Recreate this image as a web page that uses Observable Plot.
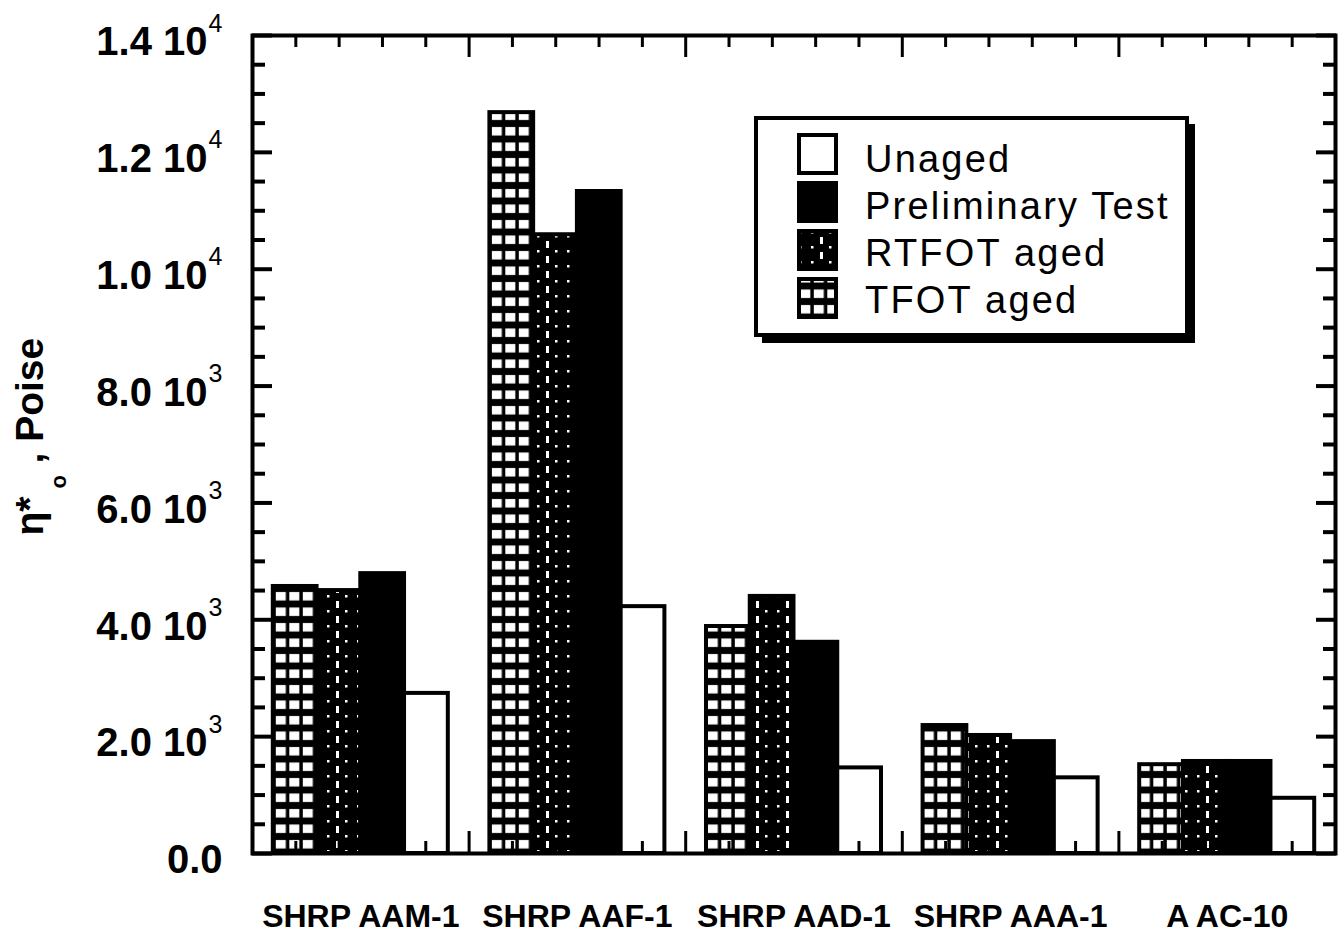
<!DOCTYPE html>
<html>
<head>
<meta charset="utf-8">
<script src="https://cdn.jsdelivr.net/npm/d3@7"></script>
<script src="https://cdn.jsdelivr.net/npm/@observablehq/plot@0.6"></script>
<style>
  body { margin: 0; background: #fff; }
  #wrap { position: relative; width: 1341px; height: 934px; overflow: hidden; background: #fff; }
  #wrap > svg.plot { position: absolute; left: 0; top: 0; }
  #legend { position: absolute; left: 754px; top: 116px; }
</style>
</head>
<body>
<svg width="0" height="0" style="position:absolute">
  <defs>
    <pattern id="pTFOT" patternUnits="userSpaceOnUse" x="5.8" y="0" width="13.5" height="15.5">
      <rect width="13.5" height="15.5" fill="#000"/>
      <rect x="0" y="3" width="10" height="8.5" fill="#fff"/>
    </pattern>
    <pattern id="pRTFOT" patternUnits="userSpaceOnUse" x="0" y="0" width="30" height="15">
      <rect width="30" height="15" fill="#000"/>
      <rect x="6" y="1" width="3" height="7" fill="#fff"/>
      <rect x="15" y="10" width="2.5" height="2.5" fill="#fff"/>
      <rect x="27" y="10" width="2.5" height="2.5" fill="#fff"/>
    </pattern>
  </defs>
</svg>
<div id="wrap"></div>
<script>
// ---- data ----
const groups = ["SHRP AAM-1", "SHRP AAF-1", "SHRP AAD-1", "SHRP AAA-1", "A AC-10"];
const seriesNames = ["TFOT aged", "RTFOT aged", "Preliminary Test", "Unaged"];
const tfotAged = [4570, 12680, 3885, 2190, 1520];
const rtfotAged = [4500, 10590, 4400, 2020, 1575];
const preliminaryTest = [4790, 11330, 3615, 1915, 1575];
const unaged = [2740, 4225, 1465, 1295, 945];
const yTicks = [0, 2000, 4000, 6000, 8000, 10000, 12000, 14000];
const yTickMantissa = ["0.0", "2.0", "4.0", "6.0", "8.0", "1.0", "1.2", "1.4"];
const yTickExponent = ["", "3", "3", "3", "3", "4", "4", "4"];
const legendOrder = ["Unaged", "Preliminary Test", "RTFOT aged", "TFOT aged"];

// ---- table built from the arrays ----
const seriesValues = [tfotAged, rtfotAged, preliminaryTest, unaged];
const seriesFill = {"TFOT aged": "url(#pTFOT)", "RTFOT aged": "url(#pRTFOT)", "Preliminary Test": "#000", "Unaged": "#fff"};
const rows = [];
seriesNames.forEach((s, si) => groups.forEach((g, gi) => rows.push({group: g, gi, series: s, si, value: seriesValues[si][gi]})));

const barW = 0.202;                  // bar width as a fraction of a group slot
const pad = (1 - seriesNames.length * barW) / 2;

const xMajor = d3.range(0, groups.length + 1);
const xMinor = d3.range(0, groups.length * 5 + 1).map(i => i / 5).filter(v => Math.abs(v - Math.round(v)) > 1e-6);
const xCenters = groups.map((g, i) => i + 0.5);
const yMinor = d3.range(0, 14001, 500).filter(v => v % 2000 !== 0);

const tickX = {tickFormat: () => "", label: null, strokeWidth: 3};
const tickY = {tickFormat: () => "", label: null, strokeWidth: 4};

const marks = [];
seriesNames.forEach((s, si) => {
  marks.push(Plot.rect(rows.filter(d => d.si === si), {
    x1: d => d.gi + pad + d.si * barW,
    x2: d => d.gi + pad + (d.si + 1) * barW,
    y1: d => 0,
    y2: "value",
    fill: seriesFill[s],
    stroke: "#000",
    strokeWidth: 4
  }));
});

marks.push(
  Plot.frame({stroke: "#000", strokeWidth: 4}),
  // top ticks (inward)
  Plot.axisX(xMajor, {anchor: "top", tickSize: 21, dy: 21, ...tickX}),
  Plot.axisX(xMinor, {anchor: "top", tickSize: 11, dy: 11, ...tickX}),
  // bottom ticks (inward)
  Plot.axisX(xMajor, {anchor: "bottom", tickSize: 22, dy: -22, ...tickX}),
  Plot.axisX(xMinor, {anchor: "bottom", tickSize: 12, dy: -12, ...tickX}),
  // category labels
  Plot.axisX(xCenters, {anchor: "bottom", tickSize: 0, tickPadding: 51, label: null,
    tickFormat: d => groups[Math.floor(d)], fontSize: 32, fontWeight: "bold"}),
  // left ticks (inward)
  Plot.axisY(yTicks, {anchor: "left", tickSize: 20, dx: 20, ...tickY}),
  Plot.axisY(yMinor, {anchor: "left", tickSize: 13, dx: 13, ...tickY}),
  // right ticks (inward)
  Plot.axisY(yTicks, {anchor: "right", tickSize: 20, dx: -20, ...tickY}),
  Plot.axisY(yMinor, {anchor: "right", tickSize: 13, dx: -13, ...tickY}),
  // y labels: mantissa + "10"
  Plot.axisY(yTicks.slice(1), {anchor: "left", tickSize: 0, tickPadding: 45, label: null, dy: 7,
    tickFormat: v => yTickMantissa[yTicks.indexOf(v)] + " 10", fontSize: 40, fontWeight: "bold"}),
  // exponents
  Plot.axisY(yTicks.slice(1), {anchor: "left", tickSize: 0, tickPadding: 30, label: null, dy: -12,
    tickFormat: v => yTickExponent[yTicks.indexOf(v)], fontSize: 25}),
  // zero label
  Plot.axisY([0], {anchor: "left", tickSize: 0, tickPadding: 30, label: null, dy: 7,
    tickFormat: v => yTickMantissa[yTicks.indexOf(v)], fontSize: 40, fontWeight: "bold"}),
  // y title: η*ₒ, Poise
  Plot.text(["η*"], {frameAnchor: "left", text: d => d, rotate: -90, textAnchor: "start",
    fontSize: 39, fontWeight: "bold", dx: -221.5, dy: 91}),
  Plot.text(["o"], {frameAnchor: "left", text: d => d, rotate: -90, textAnchor: "start",
    fontSize: 22, fontWeight: "bold", dx: -194, dy: 44}),
  Plot.text([", Poise"], {frameAnchor: "left", text: d => d, rotate: -90, textAnchor: "start",
    fontSize: 39, fontWeight: "bold", dx: -221.5, dy: 19})
);

const chart = Plot.plot({
  width: 1341,
  height: 934,
  marginLeft: 252,
  marginRight: 6,
  marginTop: 35,
  marginBottom: 81,
  style: {fontFamily: "'Liberation Sans', Arial, sans-serif", background: "#fff", color: "#000", overflow: "visible"},
  x: {type: "linear", domain: [0, groups.length]},
  y: {type: "linear", domain: [0, 14000]},
  marks
});
chart.classList.add("plot");
document.getElementById("wrap").appendChild(chart);

// ---- legend (inside the plot area, top right) ----
const lg = d3.select("#wrap").append("svg").attr("id", "legend").attr("width", 445).attr("height", 230);
lg.append("rect").attr("x", 8).attr("y", 8).attr("width", 433).attr("height", 219).attr("fill", "#000");
lg.append("rect").attr("x", 2).attr("y", 2).attr("width", 431).attr("height", 217)
  .attr("fill", "#fff").attr("stroke", "#000").attr("stroke-width", 4);
legendOrder.forEach((s, i) => {
  lg.append("rect").attr("x", 45).attr("y", 19 + i * 48).attr("width", 37).attr("height", 38)
    .attr("fill", seriesFill[s]).attr("stroke", "#000").attr("stroke-width", 4);
  lg.append("text").attr("x", 111).attr("y", 56 + i * 47).text(s)
    .attr("font-family", "'Liberation Sans', Arial, sans-serif").attr("font-size", 38)
    .attr("letter-spacing", 2.2).attr("fill", "#000");
});
</script>
</body>
</html>
